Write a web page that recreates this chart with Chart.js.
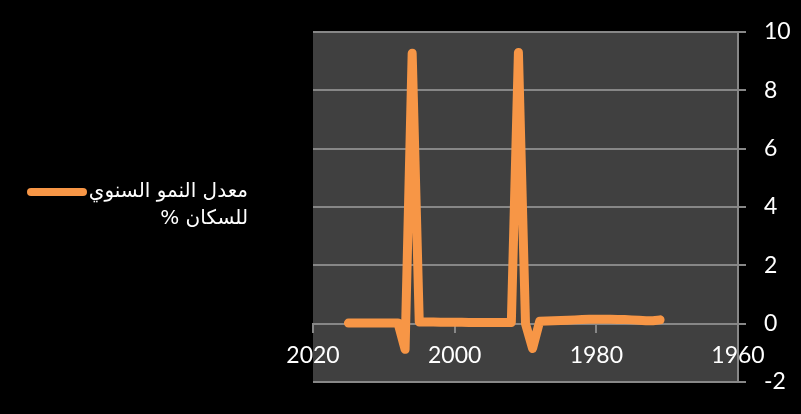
<!DOCTYPE html>
<html>
<head>
<meta charset="utf-8">
<script src="https://cdn.jsdelivr.net/npm/chart.js@4"></script>
<style>
  html, body { margin: 0; padding: 0; background: #000; }
  #wrap { width: 801px; height: 414px; }
</style>
</head>
<body>
<div id="wrap"><canvas id="growthChart" width="801" height="414"></canvas></div>
<script>
// years, newest first as in the picture
const years = [2015, 2014, 2013, 2012, 2011, 2010, 2009, 2008, 2007, 2006,
    2005, 2004, 2003, 2002, 2001, 2000, 1999, 1998, 1997, 1996,
    1995, 1994, 1993, 1992, 1991, 1990, 1989, 1988, 1987, 1986,
    1985, 1984, 1983, 1982, 1981, 1980, 1979, 1978, 1977, 1976,
    1975, 1974, 1973, 1972, 1971];

const growthRate = [0.02, 0.02, 0.02, 0.02, 0.02, 0.02, 0.02, 0.02, -0.88, 9.27,
    0.06, 0.06, 0.06, 0.05, 0.05, 0.05, 0.05, 0.04, 0.04, 0.04,
    0.04, 0.04, 0.04, 0.04, 9.3, 0.0, -0.85, 0.08, 0.09, 0.1,
    0.11, 0.12, 0.13, 0.14, 0.15, 0.15, 0.15, 0.15, 0.14, 0.14,
    0.13, 0.12, 0.1, 0.1, 0.13];

const xTicks = [2020, 2000, 1980, 1960];
const yTicks = [-2, 0, 2, 4, 6, 8, 10];

const seriesName = "معدل النمو السنوي للسكان %";
const orange = "#f79646";
const gridGray = "#878787";

// dark plot area behind the line
const plotBackground = {
    id: "plotBackground",
    beforeDraw(chart) {
        const { ctx, chartArea } = chart;
        ctx.save();
        ctx.fillStyle = "#404040";
        ctx.fillRect(chartArea.left, chartArea.top, chartArea.right - chartArea.left, chartArea.bottom - chartArea.top);
        ctx.restore();
    }
};

// legend on the left, wrapped over two lines like Excel does
const sideLegend = {
    id: "sideLegend",
    afterDraw(chart) {
        const ctx = chart.ctx;
        const ds = chart.data.datasets[0];
        ctx.save();
        ctx.strokeStyle = ds.borderColor;
        ctx.lineWidth = 8;
        ctx.lineCap = "round";
        ctx.beginPath();
        ctx.moveTo(31, 192);
        ctx.lineTo(83, 192);
        ctx.stroke();

        ctx.font = "20px 'DejaVu Sans'";
        ctx.fillStyle = "#ffffff";
        ctx.direction = "rtl";
        ctx.textAlign = "right";
        ctx.textBaseline = "alphabetic";

        const words = ds.label.split(" ");
        const lines = [];
        let line = "";
        words.forEach(w => {
            const test = line ? line + " " + w : w;
            if (ctx.measureText(test).width > 175 && line) {
                lines.push(line);
                line = w;
            } else {
                line = test;
            }
        });
        lines.push(line);

        lines.forEach((l, i) => ctx.fillText(l, 248, 197 + i * 27));
        ctx.restore();
    }
};

new Chart(document.getElementById("growthChart"), {
    type: "line",
    data: {
        datasets: [{
            label: seriesName,
            data: years.map((y, i) => ({ x: y, y: growthRate[i] })),
            borderColor: orange,
            backgroundColor: orange,
            borderWidth: 9,
            borderCapStyle: "round",
            borderJoinStyle: "round",
            pointRadius: 0,
            tension: 0
        }]
    },
    options: {
        responsive: false,
        animation: false,
        layout: { padding: { left: 313, top: 32, bottom: 32, right: 0 } },
        plugins: {
            legend: { display: false },
            tooltip: { enabled: false }
        },
        scales: {
            x: {
                type: "linear",
                position: { y: 0 },
                reverse: true,
                min: 1960,
                max: 2020,
                afterBuildTicks: s => { s.ticks = xTicks.map(v => ({ value: v })); },
                afterFit: s => { s.height = 0; },
                grid: { drawOnChartArea: false, drawTicks: true, tickLength: 8, color: gridGray, lineWidth: 2 },
                border: { display: true, color: gridGray, width: 2 },
                ticks: {
                    color: "#ffffff",
                    font: { family: "Lato", size: 23 },
                    padding: 10,
                    maxRotation: 0,
                    autoSkip: false,
                    callback: v => String(v)
                }
            },
            y: {
                type: "linear",
                position: "right",
                min: -2,
                max: 10,
                afterBuildTicks: s => { s.ticks = yTicks.map(v => ({ value: v })); },
                afterFit: s => { s.width = 63; },
                grid: { color: gridGray, lineWidth: 2, tickLength: 8 },
                border: { display: true, color: gridGray, width: 2 },
                ticks: {
                    color: "#ffffff",
                    font: { family: "Lato", size: 23 },
                    padding: 18,
                    callback: v => String(v)
                }
            }
        }
    },
    plugins: [plotBackground, sideLegend]
});
</script>
</body>
</html>
